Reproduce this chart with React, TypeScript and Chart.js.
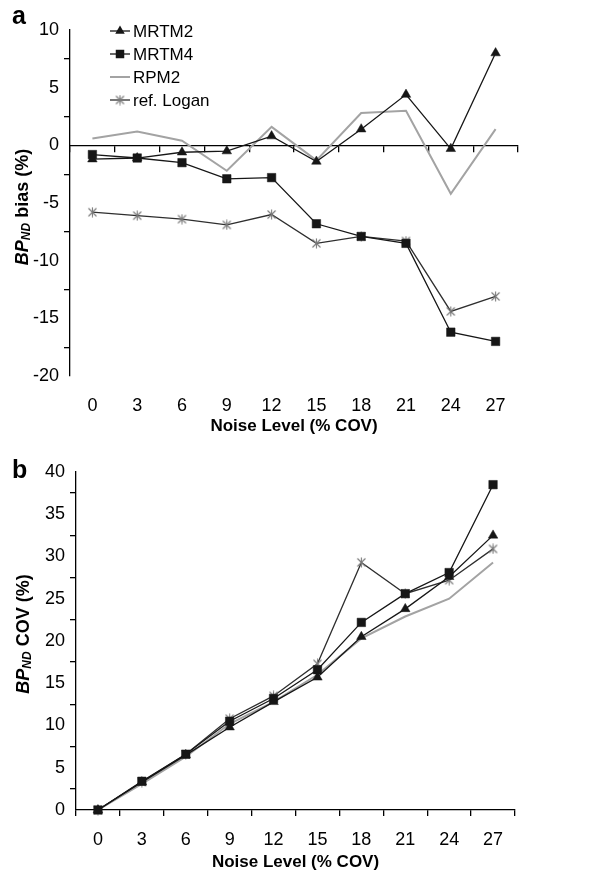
import React, { useEffect, useRef } from 'react';
import { Chart, registerables } from 'chart.js';

Chart.register(...registerables);

// ---------------- data ----------------
const noiseLevels = ['0', '3', '6', '9', '12', '15', '18', '21', '24', '27'];
const seriesNames = ['MRTM2', 'MRTM4', 'RPM2', 'ref. Logan'];

// panel a: BPND bias (%)
const biasMRTM2 = [-1.2, -1.1, -0.6, -0.5, 0.8, -1.4, 1.4, 4.4, -0.3, 8.0];
const biasMRTM4 = [-0.8, -1.1, -1.5, -2.9, -2.8, -6.8, -7.9, -8.5, -16.2, -17.0];
const biasRPM2 = [0.6, 1.2, 0.4, -2.2, 1.6, -1.3, 2.8, 3.0, -4.2, 1.4];
const biasLogan = [-5.8, -6.1, -6.4, -6.9, -6.0, -8.5, -7.9, -8.3, -14.4, -13.1];

// panel b: BPND COV (%)
const covMRTM2 = [0, 3.3, 6.5, 9.8, 12.8, 15.7, 20.5, 23.8, 27.6, 32.5];
const covMRTM4 = [0, 3.4, 6.6, 10.5, 13.2, 16.6, 22.2, 25.6, 28.1, 38.5];
const covRPM2 = [0, 3.1, 6.3, 10.2, 12.8, 16.0, 20.3, 22.9, 25.0, 29.3];
const covLogan = [0, 3.3, 6.6, 10.8, 13.5, 17.3, 29.3, 25.6, 27.2, 30.9];

const biasAxis = { min: -20, max: 10, step: 5 };
const covAxis = { min: 0, max: 40, step: 5 };

const xTitle = 'Noise Level (% COV)';
const yTitleA = ' bias (%)';
const yTitleB = ' COV (%)';

// ---------------- styles ----------------
const FONT = '"Liberation Sans", Arial, Helvetica, sans-serif';
const DARK = '#161616';
const GRAY_LINE = '#a3a3a3';
const LOGAN_LINE = '#2e2e2e';
const LOGAN_MARK = '#7a7a7a';

function makeStar(): HTMLCanvasElement {
  const c = document.createElement('canvas');
  c.width = 11;
  c.height = 11;
  const g = c.getContext('2d')!;
  g.strokeStyle = LOGAN_MARK;
  g.lineWidth = 1.1;
  g.beginPath();
  g.moveTo(1.5, 1.5); g.lineTo(9.5, 9.5);
  g.moveTo(9.5, 1.5); g.lineTo(1.5, 9.5);
  g.moveTo(5.5, 0.5); g.lineTo(5.5, 10.5);
  g.stroke();
  return c;
}

function makeDatasets(values: number[][], star: HTMLCanvasElement) {
  return [
    {
      label: seriesNames[0], data: values[0], borderColor: DARK, backgroundColor: DARK,
      borderWidth: 1.3, pointStyle: 'triangle', pointRadius: 5.5, pointBorderWidth: 0.5,
      pointBackgroundColor: DARK, pointBorderColor: DARK, clip: false,
    },
    {
      label: seriesNames[1], data: values[1], borderColor: DARK, backgroundColor: DARK,
      borderWidth: 1.3, pointStyle: 'rect', pointRadius: 6, pointBorderWidth: 0.5,
      pointBackgroundColor: DARK, pointBorderColor: DARK, clip: false,
    },
    {
      label: seriesNames[2], data: values[2], borderColor: GRAY_LINE, backgroundColor: GRAY_LINE,
      borderWidth: 2, pointRadius: 0, clip: false,
    },
    {
      label: seriesNames[3], data: values[3], borderColor: LOGAN_LINE, backgroundColor: LOGAN_MARK,
      borderWidth: 1.3, pointStyle: star, pointRadius: 5.5, clip: false,
    },
  ];
}

function yTitlePlugin(cx: number, cy: number, suffix: string) {
  return {
    id: 'ytitle',
    afterDraw(chart: any) {
      const ctx = chart.ctx;
      ctx.save();
      ctx.translate(cx, cy);
      ctx.rotate(-Math.PI / 2);
      ctx.fillStyle = '#000';
      ctx.textBaseline = 'middle';
      ctx.textAlign = 'left';
      const big = `italic bold 18px ${FONT}`;
      const small = `italic bold 12px ${FONT}`;
      const normal = `bold 18px ${FONT}`;
      ctx.font = big; const w1 = ctx.measureText('BP').width;
      ctx.font = small; const w2 = ctx.measureText('ND').width;
      ctx.font = normal; const w3 = ctx.measureText(suffix).width;
      let x = -(w1 + w2 + w3) / 2;
      ctx.font = big; ctx.fillText('BP', x, 0); x += w1;
      ctx.font = small; ctx.fillText('ND', x, 4); x += w2;
      ctx.font = normal; ctx.fillText(suffix, x, 0);
      ctx.restore();
    },
  };
}

function letterPlugin(letter: string, x: number, y: number) {
  return {
    id: 'letter',
    afterDraw(chart: any) {
      const ctx = chart.ctx;
      ctx.save();
      ctx.fillStyle = '#000';
      ctx.font = `bold 25px ${FONT}`;
      ctx.textBaseline = 'alphabetic';
      ctx.textAlign = 'left';
      ctx.fillText(letter, x, y);
      ctx.restore();
    },
  };
}

function legendPlugin(x0: number, y0: number, rowH: number, star: HTMLCanvasElement) {
  return {
    id: 'customLegend',
    afterDraw(chart: any) {
      const ctx = chart.ctx;
      ctx.save();
      chart.data.datasets.forEach((ds: any, i: number) => {
        const y = y0 + i * rowH;
        ctx.strokeStyle = ds.borderColor;
        ctx.lineWidth = ds.borderWidth;
        ctx.beginPath();
        ctx.moveTo(x0, y);
        ctx.lineTo(x0 + 20, y);
        ctx.stroke();
        const cx = x0 + 10;
        ctx.fillStyle = DARK;
        if (ds.pointStyle === 'triangle') {
          const r = 5.5;
          ctx.beginPath();
          ctx.moveTo(cx, y - r);
          ctx.lineTo(cx + r * Math.sin((2 * Math.PI) / 3), y - r * Math.cos((2 * Math.PI) / 3));
          ctx.lineTo(cx + r * Math.sin((4 * Math.PI) / 3), y - r * Math.cos((4 * Math.PI) / 3));
          ctx.closePath();
          ctx.fill();
        } else if (ds.pointStyle === 'rect') {
          const s = 6 * Math.SQRT1_2;
          ctx.fillRect(cx - s, y - s, 2 * s, 2 * s);
        } else if (ds.pointRadius > 0) {
          ctx.drawImage(star, cx - star.width / 2, y - star.height / 2);
        }
        ctx.fillStyle = '#000';
        ctx.font = `17px ${FONT}`;
        ctx.textBaseline = 'middle';
        ctx.textAlign = 'left';
        ctx.fillText(ds.label, x0 + 23, y + 1);
      });
      ctx.restore();
    },
  };
}

const tickGrid = {
  display: true,
  drawOnChartArea: false,
  drawTicks: true,
  tickLength: 6,
  color: '#000',
  lineWidth: 1.3,
  offset: true,
};

export default function App() {
  const refA = useRef<HTMLCanvasElement>(null);
  const refB = useRef<HTMLCanvasElement>(null);

  useEffect(() => {
    Chart.defaults.font.family = FONT;
    Chart.defaults.color = '#000';
    const star = makeStar();

    const chartA = new Chart(refA.current!, {
      type: 'line',
      data: {
        labels: noiseLevels,
        datasets: makeDatasets([biasMRTM2, biasMRTM4, biasRPM2, biasLogan], star) as any,
      },
      options: {
        animation: false,
        responsive: true,
        maintainAspectRatio: false,
        layout: { padding: { left: 20, top: 30, right: 71, bottom: 0 } },
        plugins: { legend: { display: false }, tooltip: { enabled: false } },
        scales: {
          x: {
            type: 'category',
            position: { y: 0 } as any,
            offset: true,
            grid: tickGrid,
            border: { display: true, color: '#000', width: 1.3 },
            ticks: { display: false },
          },
          xb: {
            type: 'category',
            position: 'bottom',
            offset: true,
            grid: { display: false, drawTicks: false },
            border: { display: false },
            ticks: { font: { size: 18 }, padding: 19, maxRotation: 0, autoSkip: false },
            title: {
              display: true,
              text: xTitle,
              font: { size: 17, weight: 'bold', lineHeight: 1 },
              padding: { top: 0, bottom: 0 },
            },
            afterFit: (s: any) => { s.height = 59; },
          },
          y: {
            type: 'linear',
            position: 'left',
            min: biasAxis.min,
            max: biasAxis.max,
            grid: tickGrid,
            border: { display: true, color: '#000', width: 1.3 },
            ticks: { stepSize: biasAxis.step, font: { size: 18 }, padding: 5 },
            afterFit: (s: any) => { s.width = 50; },
          },
        },
      } as any,
      plugins: [
        yTitlePlugin(23, 207, yTitleA),
        letterPlugin('a', 12, 24),
        legendPlugin(110, 31, 23, star),
      ],
    });

    const chartB = new Chart(refB.current!, {
      type: 'line',
      data: {
        labels: noiseLevels,
        datasets: makeDatasets([covMRTM2, covMRTM4, covRPM2, covLogan], star) as any,
      },
      options: {
        animation: false,
        responsive: true,
        maintainAspectRatio: false,
        layout: { padding: { left: 26, top: 37, right: 74, bottom: 0 } },
        plugins: { legend: { display: false }, tooltip: { enabled: false } },
        scales: {
          x: {
            type: 'category',
            position: 'bottom',
            offset: true,
            grid: tickGrid,
            border: { display: true, color: '#000', width: 1.3 },
            ticks: { font: { size: 18 }, padding: 13, maxRotation: 0, autoSkip: false },
            title: {
              display: true,
              text: xTitle,
              font: { size: 17, weight: 'bold', lineHeight: 1 },
              padding: { top: 0, bottom: 0 },
            },
            afterFit: (s: any) => { s.height = 61; },
          },
          y: {
            type: 'linear',
            position: 'left',
            min: covAxis.min,
            max: covAxis.max,
            grid: tickGrid,
            border: { display: true, color: '#000', width: 1.3 },
            ticks: { stepSize: covAxis.step, font: { size: 18 }, padding: 5 },
            afterFit: (s: any) => { s.width = 50; },
          },
        },
      } as any,
      plugins: [yTitlePlugin(24, 199, yTitleB), letterPlugin('b', 12, 43)],
    });

    return () => {
      chartA.destroy();
      chartB.destroy();
    };
  }, []);

  return (
    <div style={{ position: 'absolute', left: 0, top: 0, width: 589, height: 871, background: '#fff' }}>
      <div style={{ position: 'relative', width: 589, height: 435 }}>
        <canvas ref={refA} />
      </div>
      <div style={{ position: 'relative', width: 589, height: 436 }}>
        <canvas ref={refB} />
      </div>
    </div>
  );
}
